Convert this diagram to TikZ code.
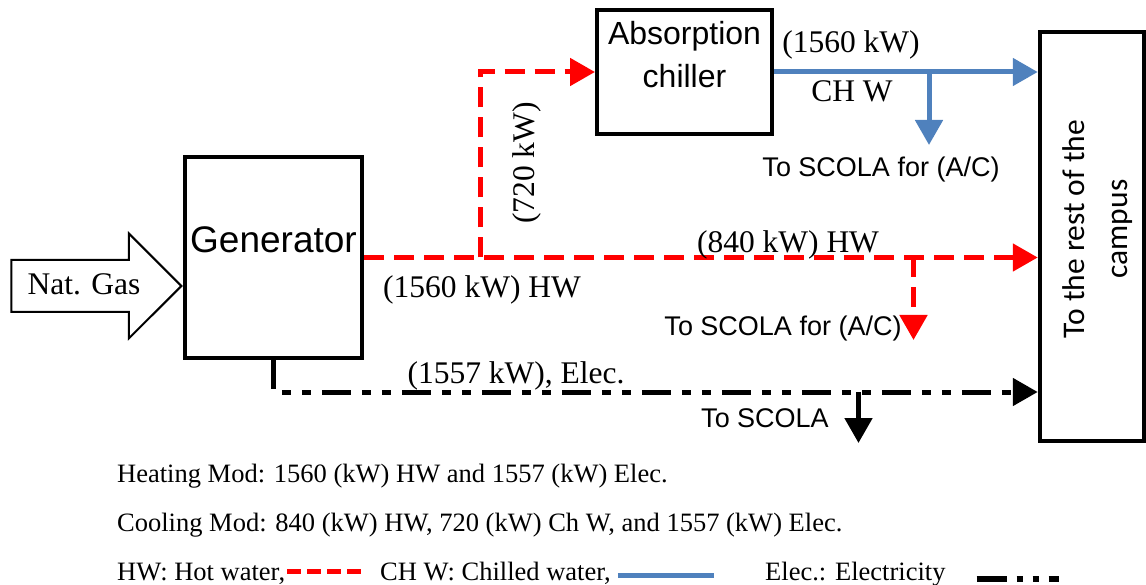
\documentclass[tikz,border=0pt]{standalone}
\usepackage{fontspec}
\setmainfont{Liberation Serif}
\newfontfamily\arialfont{Liberation Sans}
\newfontfamily\campusfont{Carlito}
\usepackage{graphicx}
\usepackage{tikz}
\usetikzlibrary{positioning, shapes.arrows, arrows.meta}
\definecolor{hwred}{RGB}{255,0,0}
\definecolor{chwblue}{RGB}{79,129,189}

\begin{document}
\begin{tikzpicture}[
    x=1pt, y=-1pt,
    box/.style={rectangle, draw, line width=4.5pt, inner sep=0pt},
    lbl/.style={anchor=base, inner sep=0pt, font=\fontsize{31.5}{36}\selectfont},
    sanslbl/.style={anchor=base, inner sep=0pt, font=\arialfont\fontsize{27}{30}\selectfont},
    keytext/.style={anchor=base west, inner sep=0pt, font=\fontsize{26.5}{30}\selectfont},
    arrow/.style={-{Triangle[length=25pt, width=27pt]}},
    hw/.style={draw=hwred, line width=5pt, dash pattern=on 20pt off 10pt},
    chw/.style={draw=chwblue, line width=5pt},
    elec/.style={draw=black, line width=5pt, dash pattern=on 29pt off 11pt on 9pt off 11pt on 9pt off 11pt}
]
    \useasboundingbox (0,0) rectangle (1146,585);

    \node[box, minimum width=177pt, minimum height=201pt] (gen) at (273.5,257.5) {};
    \node[lbl, font=\arialfont\fontsize{37}{40}\selectfont] (genlbl) at (273.5,253) {Generator};
    \node[single arrow, draw, line width=2pt, minimum height=170pt, inner xsep=0pt, inner ysep=25pt,
          single arrow head extend=26.5pt, single arrow head indent=0pt,
          anchor=tip] (gas) at (gen.west |- 0,286) {};
    \node[lbl] (gaslbl) at (84,295) {Nat. Gas};

    \node[box, line width=4pt, minimum width=175pt, minimum height=124pt] (chiller) at (684.5,72) {};
    \node[sanslbl, font=\arialfont\fontsize{32}{36}\selectfont] (chlbl) at (684.5,45) {Absorption};
    \node[sanslbl, font=\arialfont\fontsize{32}{36}\selectfont, below=43pt of chlbl.base, anchor=base] {chiller};

    \node[box, minimum width=104pt, minimum height=409pt] (campus) at (1092,236.5) {};
    \node[rotate=90, inner sep=0pt, align=center, font=\campusfont\fontsize{31.5}{43}\selectfont]
        (campuslbl) at (1098,229) {To the rest of the\\campus};

    % branch ends
    \coordinate (hwac) at (913.5,340);
    \coordinate (chwac) at (929,145);
    \coordinate (elscola) at (858.5,443);
    \coordinate (elrun) at (0,392);

    \draw[hw, arrow] (gen.east) -- (gen.east -| campus.west);
    \draw[hw, arrow] (gen.east -| 480,0) |- (chiller.west);
    \draw[hw, arrow] (hwac |- gen.east) -- (hwac);
    \draw[chw, arrow] (chiller.east) -- (chiller.east -| campus.west);
    \draw[chw, arrow] (chwac |- chiller.east) -- (chwac);
    \draw[elec, arrow] (gen.south) |- (elrun -| campus.west);
    \draw[line width=5pt, arrow] (elscola |- elrun) -- (elscola);

    \node[lbl, rotate=90, anchor=center] (hwup) at (527,163) {(720 kW)};
    \node[lbl] (hwmain) at (482,298) {(1560 kW) HW};
    \node[lbl] (hwrest) at (788,253) {(840 kW) HW};
    \node[lbl] (chwkw) at (851,53) {(1560 kW)};
    \node[lbl] (chwname) at (852,102) {CH W};
    \node[sanslbl] (chwto) at (881,177) {To SCOLA for (A/C)};
    \node[sanslbl] (hwto) at (783,335) {To SCOLA for (A/C)};
    \node[lbl] (elkw) at (516,383) {(1557 kW), Elec.};
    \node[sanslbl] (elto) at (765,427) {To SCOLA};

    % legend
    \node[keytext] (heat) at (117,482) {Heating Mod: 1560 (kW) HW and 1557 (kW) Elec.};
    \node[keytext] (cool) at (117,531) {Cooling Mod: 840 (kW) HW, 720 (kW) Ch W, and 1557 (kW) Elec.};
    \node[keytext] (keyhw) at (117,580) {HW: Hot water,};
    \node[keytext] (keychw) at (380,580) {CH W: Chilled water,};
    \node[keytext] (keyel) at (765,580) {Elec.: Electricity};
    \draw[hw, dash pattern=on 14pt off 6pt] ([xshift=2pt, yshift=9pt]keyhw.base east) -- ++(74,0);
    \draw[chw] ([xshift=7pt, yshift=5pt]keychw.base east) -- ++(96,0);
    \draw[elec, line width=6pt, dash pattern=on 30pt off 10pt on 6pt off 10pt on 6pt off 10pt] ([xshift=31pt, yshift=1pt]keyel.base east) -- ++(82,0);
\end{tikzpicture}
\end{document}
